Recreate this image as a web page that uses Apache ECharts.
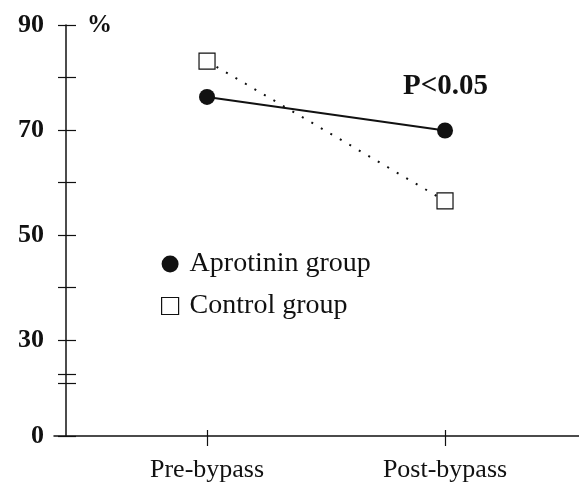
<!DOCTYPE html>
<html>
<head>
<meta charset="utf-8">
<script src="https://cdn.jsdelivr.net/npm/echarts@6/dist/echarts.min.js"></script>
<style>
    html, body { margin: 0; padding: 0; background: #fff; }
    #main { width: 579px; height: 486px; }
</style>
</head>
<body>
<div id="main"></div>
<script>
// categories and values
var categories = ['Pre-bypass', 'Post-bypass'];
var aprotinin = [76.3, 69.9];
var control = [83.1, 56.5];
var yLabels = [30, 50, 70, 90];
var yBottom = 11.7;   // axis is broken: bottom of axis shows "0"
var yBreak = [21.8, 23.5];

var serif = '"Liberation Serif", "DejaVu Serif", serif';

// x positions for the two categories
var xPos = [1, 2];

var tickVals = [yBottom].concat(yBreak);
for (var v = 30; v <= 90; v += 10) tickVals.push(v);

function yAxisBase(inside, len, showLabel) {
    return {
        type: 'value',
        position: 'left',
        min: yBottom,
        max: 90,
        offset: -12,
        axisLine: { show: !inside, lineStyle: { color: '#111', width: 1.5 } },
        splitLine: { show: false },
        axisTick: {
            show: true, inside: inside, length: len,
            customValues: tickVals,
            lineStyle: { color: '#111', width: 1.2 }
        },
        axisLabel: {
            show: showLabel,
            customValues: [yBottom].concat(yLabels),
            margin: 22,
            color: '#111',
            fontFamily: serif,
            fontWeight: 'bold',
            fontSize: 26,
            formatter: function (val) {
                return val < 20 ? '0' : String(Math.round(val));
            }
        }
    };
}

function xAxisBase(inside, len, showLabel) {
    return {
        type: 'value',
        position: 'bottom',
        min: 0.357,
        max: 2.563,
        axisLine: { show: !inside, onZero: false, lineStyle: { color: '#111', width: 1.5 } },
        splitLine: { show: false },
        axisTick: {
            show: true, inside: inside, length: len,
            customValues: xPos,
            lineStyle: { color: '#111', width: 1.2 }
        },
        axisLabel: {
            show: showLabel,
            customValues: xPos,
            margin: 21,
            color: '#111',
            fontFamily: serif,
            fontSize: 26,
            formatter: function (val) {
                return categories[Math.round(val) - 1];
            }
        }
    };
}

var myChart = echarts.init(document.getElementById('main'));
myChart.setOption({
    animation: false,
    grid: { left: 54, right: 0, top: 25, bottom: 50 },
    xAxis: [xAxisBase(false, 10, true), xAxisBase(true, 6, false)],
    yAxis: [yAxisBase(false, 8, true), yAxisBase(true, 10, false)],
    legend: {
        orient: 'vertical',
        left: 156,
        top: 245,
        itemWidth: 17,
        itemHeight: 17,
        itemGap: 14,
        textStyle: {
            fontFamily: serif, fontSize: 28, color: '#111',
            lineHeight: 28, padding: [0, 0, 0, 6]
        },
        data: [
            { name: 'Aprotinin group', icon: 'circle' },
            { name: 'Control group', icon: 'rect',
              itemStyle: { color: '#fff', borderColor: '#111', borderWidth: 1.2 } }
        ]
    },
    graphic: [
        {
            type: 'text', left: 87, top: 13,
            style: { text: '%', font: 'bold 25px ' + serif, fill: '#111' }
        },
        {
            type: 'text', left: 403, top: 72,
            style: { text: 'P<0.05', font: 'bold 29px ' + serif, fill: '#111' }
        }
    ],
    series: [
        {
            name: 'Control group',
            type: 'line',
            data: xPos.map(function (x, i) { return [x, control[i]]; }),
            symbol: 'rect',
            symbolSize: 16,
            itemStyle: { color: '#fff', borderColor: '#111', borderWidth: 1.2 },
            lineStyle: { color: '#111', width: 2, type: [2, 9] },
            z: 3
        },
        {
            name: 'Aprotinin group',
            type: 'line',
            data: xPos.map(function (x, i) { return [x, aprotinin[i]]; }),
            symbol: 'circle',
            symbolSize: 16,
            itemStyle: { color: '#111' },
            lineStyle: { color: '#111', width: 2 },
            z: 4
        }
    ]
});
</script>
</body>
</html>
